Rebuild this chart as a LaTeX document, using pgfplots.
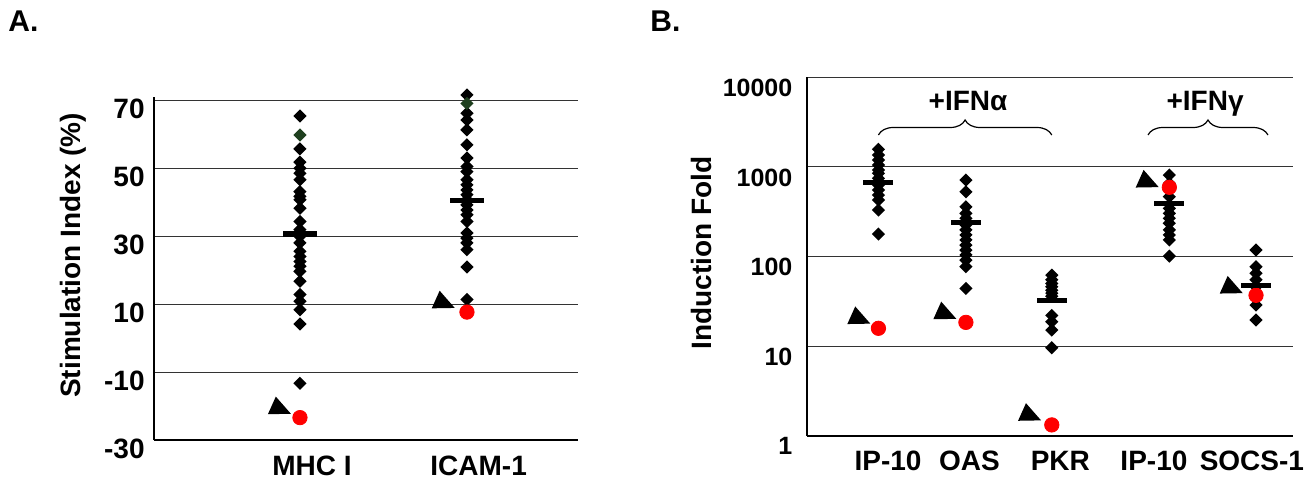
\documentclass[border=0pt]{standalone}
\usepackage{fontspec}
\setmainfont{Liberation Sans}
\usepackage{pgfplots}
\pgfplotsset{compat=1.18}
\usetikzlibrary{decorations.pathreplacing}

\definecolor{dotred}{HTML}{FF0000}
\definecolor{darkgreen}{HTML}{1F401F}

\newcommand\tA[1]{{\fontsize{14}{16}\selectfont\bfseries #1}}
\newcommand\tB[1]{{\fontsize{12.5}{14}\selectfont\bfseries #1}}

% marks: diamond, pointer triangle, mean bars
\pgfdeclareplotmark{dia}{%
  \pgfpathmoveto{\pgfqpoint{0pt}{3.3pt}}%
  \pgfpathlineto{\pgfqpoint{3.3pt}{0pt}}%
  \pgfpathlineto{\pgfqpoint{0pt}{-3.3pt}}%
  \pgfpathlineto{\pgfqpoint{-3.3pt}{0pt}}%
  \pgfpathclose\pgfusepathqfill}
\pgfdeclareplotmark{tri}{%
  \pgfpathmoveto{\pgfqpoint{-5.75pt}{-4.4pt}}%
  \pgfpathlineto{\pgfqpoint{-1.8pt}{4.4pt}}%
  \pgfpathlineto{\pgfqpoint{5.75pt}{-4.2pt}}%
  \pgfpathclose\pgfusepathqfill}
\pgfdeclareplotmark{meanA}{%
  \pgfpathrectangle{\pgfqpoint{-8.5pt}{-1.4pt}}{\pgfqpoint{17pt}{2.8pt}}\pgfusepathqfill}
\pgfdeclareplotmark{meanB}{%
  \pgfpathrectangle{\pgfqpoint{-7.5pt}{-1.25pt}}{\pgfqpoint{15pt}{2.5pt}}\pgfusepathqfill}

\pgfplotsset{
  panel/.style={
    scale only axis, clip=false,
    axis x line=bottom, axis y line=left,
    axis line style={-, line width=1pt},
    ymajorgrids, major grid style={black!80, line width=0.5pt},
    major tick length=0pt, minor tick length=0pt,
    xticklabel style={font=\fontsize{14}{16}\selectfont\bfseries, anchor=base, yshift=-17.5pt},
    ylabel style={font=\fontsize{14}{16}\selectfont\bfseries, anchor=center},
  },
  dots/.style={only marks, mark=dia, black},
  reds/.style={only marks, mark=*, mark size=3.6pt, dotred, mark options={draw=dotred, fill=dotred}},
  tris/.style={only marks, mark=tri, black},
}

\begin{document}
\begin{tikzpicture}
\useasboundingbox (0,0) rectangle (657.5pt,241.5pt);

\node[anchor=base west, inner sep=0pt, font=\fontsize{15}{17}\selectfont\bfseries] at (4pt,225.5pt) {A.};
\node[anchor=base west, inner sep=0pt, font=\fontsize{15}{17}\selectfont\bfseries] at (325pt,225.5pt) {B.};

% ---------- panel A ----------
\begin{axis}[panel,
  at={(77pt,21.5pt)}, anchor=south west,
  width=212pt, height=169.65pt,
  xmin=0.126, xmax=2.665, ymin=-30, ymax=70,
  xtick={1.072,2.07}, xticklabels={MHC I,ICAM-1},
  ytick={-30,-10,10,30,50,70},
  yticklabels={\tA{-30},\tA{-10},\tA{10},\tA{30},\tA{50},\tA{70}},
  yticklabel style={anchor=east, inner sep=0pt, yshift=-4.25pt, xshift=-4.5pt},
  y axis line style={shorten >=-1.7pt},
  ylabel={Stimulation Index (\%)},
  ylabel style={at={(axis description cs:-0.191,0.544)}},
]
\addplot[dots] coordinates {
 (1,65.5) (1,55.8) (1,51.9) (1,50.1) (1,48.6) (1,46.7) (1,43.2) (1,41.8)
 (1,40.8) (1,38.3) (1,34.4) (1,32.0) (1,30.0) (1,28.1) (1,25.6) (1,24.1)
 (1,22.6) (1,21.2) (1,19.7) (1,16.8) (1,12.9) (1,10.9) (1,8.4) (1,4.2) (1,-13.3)
};
\addplot[dots] coordinates {
 (2,71.7) (2,66.3) (2,64.3) (2,61.4) (2,57.0) (2,53.1) (2,50.6) (2,49.1)
 (2,46.7) (2,45.2) (2,43.7) (2,42.3) (2,40.8) (2,39.3) (2,37.8) (2,36.4)
 (2,34.4) (2,31.0) (2,29.5) (2,28.1) (2,26.1) (2,21.0) (2,11.4)
};
\addplot[only marks, mark=dia, darkgreen] coordinates {(1,59.9) (2,69.2)};
\addplot[reds] coordinates {(1,-23.4) (2,7.7)};
\addplot[tris] coordinates {(0.877,-19.8) (1.858,11.4)};
\addplot[only marks, mark=meanA, black] coordinates {(1,30.8) (2,40.6)};
\end{axis}

% ---------- panel B ----------
\begin{axis}[panel,
  at={(403.35pt,23.65pt)}, anchor=south west,
  width=243.15pt, height=179.2pt,
  ymode=log, log basis y=10,
  xmin=0.18, xmax=5.74, ymin=1, ymax=10000,
  xtick={1.11,2.04,3.08,4.15,5.27},
  xticklabels={IP-10,OAS,PKR,IP-10,SOCS-1},
  ytick={1,10,100,1000,10000},
  yticklabels={\tB{1},\tB{10},\tB{100},\tB{1000},\tB{10000}},
  yticklabel style={anchor=east, inner sep=0pt, yshift=-5.3pt, xshift=-7pt},
  ylabel={Induction Fold},
  ylabel style={at={(axis description cs:-0.216,0.51)}},
]
\addplot[dots] coordinates {
 (1,1571) (1,1358) (1,1194) (1,1050) (1,923) (1,848) (1,746) (1,628)
 (1,552) (1,485) (1,427) (1,330) (1,178)
};
\addplot[dots] coordinates {
 (2,714) (2,528) (2,359) (2,303) (2,267) (2,225) (2,198) (2,174)
 (2,153) (2,134) (2,118) (2,104) (2,91) (2,77) (2,44)
};
\addplot[dots] coordinates {
 (2.982,62) (2.982,55) (2.982,50) (2.982,46) (2.982,42) (2.982,39)
 (2.982,36) (2.982,22) (2.982,18.7) (2.982,15.1) (2.982,9.6)
};
\addplot[dots] coordinates {
 (4.326,812) (4.326,656) (4.326,465) (4.326,345) (4.326,303) (4.326,267)
 (4.326,235) (4.326,198) (4.326,174) (4.326,153) (4.326,101)
};
\addplot[dots] coordinates {
 (5.317,118) (5.317,77) (5.317,65) (5.317,55) (5.317,46) (5.317,34)
 (5.317,28.7) (5.317,19.6)
};
\addplot[reds] coordinates {(1,15.8) (2,18.4) (2.982,1.32) (4.326,592) (5.317,36.9)};
\addplot[tris] coordinates {(0.776,22.1) (1.759,25.0) (2.728,1.84) (4.073,738) (5.034,48.4)};
\addplot[only marks, mark=meanB, black] coordinates {(1,678) (2,238) (2.982,32.7) (4.326,390) (5.317,48)};

\draw[decorate, decoration={brace, amplitude=7.5pt}, line width=0.6pt]
  (axis cs:1,2270) -- (axis cs:2.982,2270);
\draw[decorate, decoration={brace, amplitude=7.5pt}, line width=0.6pt]
  (axis cs:4.082,2270) -- (axis cs:5.454,2270);
\node[anchor=base, font=\fontsize{14}{16}\selectfont\bfseries] at (axis cs:2.024,4207) {+IFNα};
\node[anchor=base, font=\fontsize{14}{16}\selectfont\bfseries] at (axis cs:4.735,4207) {+IFNγ};
\end{axis}
\end{tikzpicture}
\end{document}
